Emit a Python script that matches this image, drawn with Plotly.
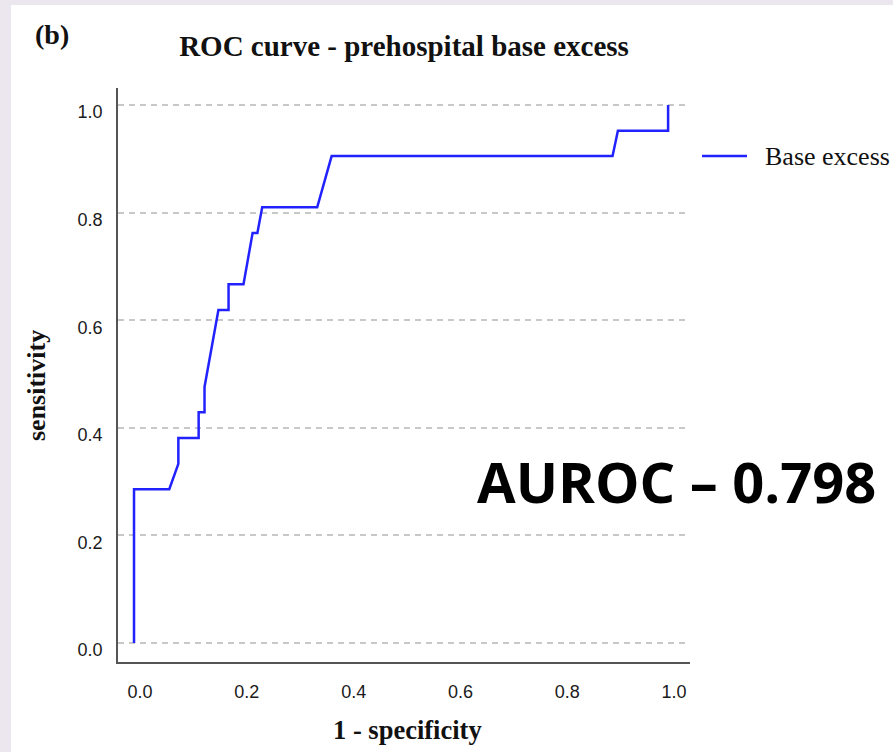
import plotly.graph_objects as go

# ROC curve data (1 - specificity, sensitivity)
fpr = [0.0, 0.0, 0.066, 0.083, 0.083, 0.121, 0.121, 0.132, 0.132, 0.158, 0.177, 0.177,
       0.205, 0.222, 0.231, 0.240, 0.343, 0.370, 0.896, 0.906, 1.0, 1.0]
tpr = [0.0, 0.286, 0.286, 0.333, 0.381, 0.381, 0.429, 0.429, 0.476, 0.619, 0.619, 0.667,
       0.667, 0.762, 0.762, 0.810, 0.810, 0.905, 0.905, 0.952, 0.952, 1.0]
series_name = "Base excess"
tick_vals = [0.0, 0.2, 0.4, 0.6, 0.8, 1.0]
tick_text = ["0.0", "0.2", "0.4", "0.6", "0.8", "1.0"]
title_text = "ROC curve - prehospital base excess"
auroc_text = "AUROC – 0.798"

W, H = 893, 752
L, R, T, B = 118, 690, 88, 662  # plot area in pixels


def px_x(p):
    return (p - L) / (R - L)


def px_y(p):
    return (B - p) / (B - T)


fig = go.Figure()
fig.add_trace(go.Scatter(
    x=fpr, y=tpr, mode="lines", name=series_name,
    line=dict(color="#2222ff", width=2.5), showlegend=False,
))

serif = "Liberation Serif"
fig.update_layout(
    width=W, height=H,
    margin=dict(l=L, r=W - R, t=T, b=H - B),
    paper_bgcolor="#ece7ef",
    plot_bgcolor="white",
    title=dict(text="<b>" + title_text + "</b>", x=0.5, xref="paper",
               xanchor="center", y=1 - 46 / H, yref="container", yanchor="middle",
               font=dict(family=serif, size=29, color="#111")),
    xaxis=dict(range=[-0.030, 1.041], tickvals=tick_vals, ticktext=tick_text,
               showgrid=False, zeroline=False, showline=True, linecolor="#555",
               linewidth=1.5, ticks="", ticklabelstandoff=13, ticklabelshift=6,
               tickfont=dict(family="Liberation Sans", size=18, color="#1a1a1a")),
    yaxis=dict(range=[-0.0353, 1.0316], tickvals=tick_vals, ticktext=tick_text,
               showgrid=True, gridcolor="#c8c8c8", gridwidth=1.5, griddash="6px,5px",
               zeroline=False, showline=True, linecolor="#555", linewidth=1.5,
               ticks="", ticklabelstandoff=10, ticklabelshift=7,
               tickfont=dict(family="Liberation Sans", size=18, color="#1a1a1a")),
    shapes=[
        # white panel on lavender background
        dict(type="rect", xref="paper", yref="paper", layer="below",
             x0=px_x(11), x1=px_x(W + 5), y0=px_y(H + 5), y1=px_y(5),
             fillcolor="white", line=dict(width=0)),
        # legend sample line
        dict(type="line", xref="paper", yref="paper",
             x0=px_x(702), x1=px_x(747), y0=px_y(156), y1=px_y(156),
             line=dict(color="#2222ff", width=2.5)),
    ],
    annotations=[
        dict(text="<b>(b)</b>", xref="paper", yref="paper", x=px_x(33), y=px_y(35),
             xanchor="left", yanchor="middle", showarrow=False,
             font=dict(family=serif, size=28, color="#111")),
        dict(text=series_name, xref="paper", yref="paper", x=px_x(763), y=px_y(156),
             xanchor="left", yanchor="middle", showarrow=False,
             font=dict(family=serif, size=26, color="#111")),
        dict(text="<b>1 - specificity</b>", xref="paper", yref="paper", x=px_x(407),
             y=px_y(730), xanchor="center", yanchor="middle", showarrow=False,
             font=dict(family=serif, size=26.5, color="#111")),
        dict(text="<b>sensitivity</b>", xref="paper", yref="paper", x=px_x(36),
             y=px_y(386), xanchor="center", yanchor="middle", showarrow=False,
             textangle=-90, font=dict(family=serif, size=26, color="#111")),
        dict(text="<b>" + auroc_text + "</b>", xref="paper", yref="paper", x=px_x(676),
             y=px_y(481), xanchor="center", yanchor="middle", showarrow=False,
             font=dict(family="Open Sans", size=56, color="black")),
    ],
)

fig.write_html("out.html")
